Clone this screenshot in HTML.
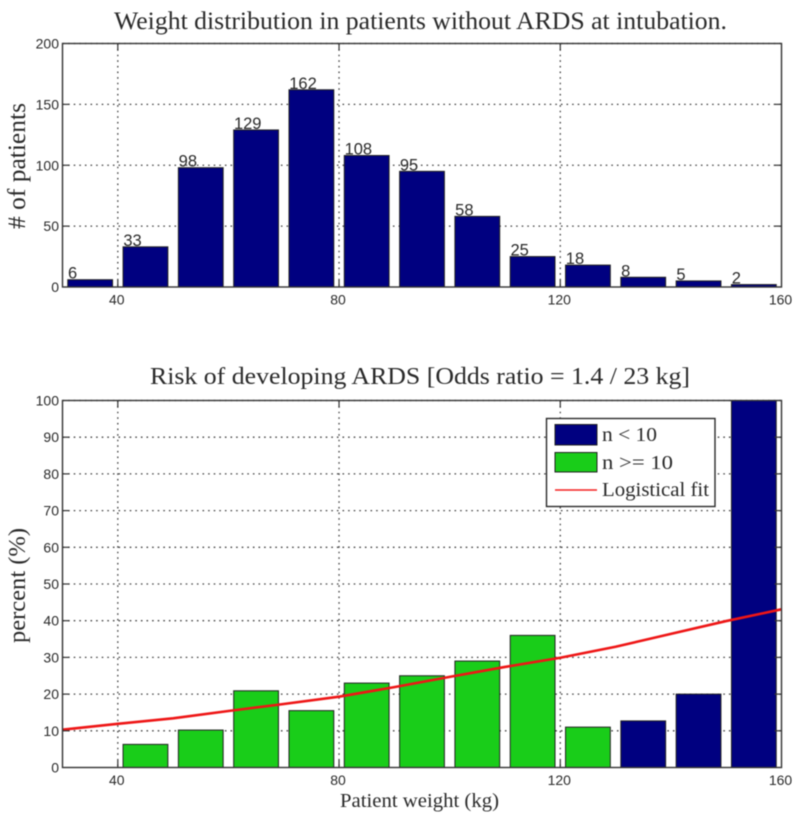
<!DOCTYPE html>
<html lang="en">
<head>
<meta charset="utf-8">
<title>Weight distribution and ARDS risk</title>
<style>
html,body{margin:0;padding:0;background:#fff;width:800px;height:820px;overflow:hidden}
svg{display:block;filter:blur(0.4px)}
.serif{font-family:"Liberation Serif","DejaVu Serif",serif;fill:#2a2a2a}
.sans{font-family:"Liberation Sans",sans-serif;fill:#2a2a2a}
</style>
</head>
<body>
<svg id="figure" xmlns="http://www.w3.org/2000/svg" width="800" height="820" viewBox="0 0 800 820">
  <g id="top-chart"></g>
  <g id="bottom-chart"></g>

  <text class="serif" x="114" y="29" font-size="25" textLength="613" lengthAdjust="spacingAndGlyphs">Weight distribution in patients without ARDS at intubation.</text>
  <text class="serif" transform="translate(25,229) rotate(-90)" font-size="25" textLength="126" lengthAdjust="spacingAndGlyphs"># of patients</text>
  <text class="serif" x="150" y="384" font-size="24" textLength="540" lengthAdjust="spacingAndGlyphs">Risk of developing ARDS [Odds ratio = 1.4 / 23 kg]</text>
  <text class="serif" transform="translate(25,643) rotate(-90)" font-size="24" textLength="115" lengthAdjust="spacingAndGlyphs">percent (%)</text>
  <text class="serif" x="340" y="807" font-size="20" textLength="159" lengthAdjust="spacingAndGlyphs">Patient weight (kg)</text>

  <g>
    <rect x="546.5" y="418.5" width="168.5" height="88" fill="#fff" stroke="#2a2a2a" stroke-width="1.4"/>
    <rect x="555" y="424.5" width="42" height="20.5" fill="#000080" stroke="#222" stroke-width="1"/>
    <text class="serif" x="602" y="441" font-size="20" textLength="55" lengthAdjust="spacingAndGlyphs">n &lt; 10</text>
    <rect x="555" y="452.5" width="42" height="19.5" fill="#19cd19" stroke="#222" stroke-width="1"/>
    <text class="serif" x="602" y="469" font-size="20" textLength="71" lengthAdjust="spacingAndGlyphs">n &gt;= 10</text>
    <line x1="555" x2="597" y1="490" y2="490" stroke="#f42020" stroke-width="1.6"/>
    <text class="serif" x="602" y="496" font-size="20" textLength="107" lengthAdjust="spacingAndGlyphs">Logistical fit</text>
  </g>
</svg>
<script>
var binCenters = [35, 45, 55, 65, 75, 85, 95, 105, 115, 125, 135, 145, 155];
var patientCounts = [6, 33, 98, 129, 162, 108, 95, 58, 25, 18, 8, 5, 2];
var riskPercent = [0, 6.3, 10.2, 20.9, 15.5, 23, 25, 29, 36, 11, 12.7, 20, 100];
var riskSmallSample = [true, false, false, false, false, false, false, false, false, false, true, true, true];
var fitWeights = [30, 40, 50, 60, 70, 80, 90, 100, 110, 120, 130, 140, 150, 160];
var fitPercent = [10.3, 11.9, 13.4, 15.4, 17.3, 19.3, 21.9, 24.7, 27.4, 29.9, 32.9, 36.4, 39.9, 43.1];
var xTickValues = [40, 80, 120, 160];
var topYTicks = [0, 50, 100, 150, 200];
var bottomYTicks = [0, 10, 20, 30, 40, 50, 60, 70, 80, 90, 100];

var NS = 'http://www.w3.org/2000/svg';
var plotLeft = 62.5, plotRight = 781.5;
var xMin = 30, xMax = 160, binWidth = 8;

function xScale(v) {
  return plotLeft + (v - xMin) / (xMax - xMin) * (plotRight - plotLeft);
}
function makeYScale(top, bottom, maxVal) {
  return function (v) { return bottom - v / maxVal * (bottom - top); };
}
function make(parent, tag, attrs, text) {
  var el = document.createElementNS(NS, tag);
  for (var k in attrs) el.setAttribute(k, attrs[k]);
  if (text !== undefined) el.textContent = text;
  parent.appendChild(el);
  return el;
}

function drawFrame(g, yScale, yTicks, top, bottom) {
  var el;
  xTickValues.forEach(function (t) {
    if (t < xMax) {
      el = make(g, 'line', { x1: xScale(t), x2: xScale(t), y1: top, y2: bottom, stroke: '#444', 'stroke-width': 1.3, 'stroke-dasharray': '1.6 4' });
      
      
    }
    el = make(g, 'text', { x: xScale(t) - 1, y: bottom + 17.5, 'text-anchor': 'middle', 'font-size': 14, 'class': 'sans' }, String(t));
    
    
  });
  yTicks.forEach(function (t) {
    if (t > 0) {
      el = make(g, 'line', { x1: plotLeft, x2: plotRight, y1: yScale(t), y2: yScale(t), stroke: '#444', 'stroke-width': 1.3, 'stroke-dasharray': '1.6 4' });
      
      
    }
    el = make(g, 'text', { x: 59, y: yScale(t) + 5, 'text-anchor': 'end', 'font-size': 14, 'class': 'sans' }, String(t));
    
    
  });
}

function drawBorder(g, yScale, yTicks, top, bottom) {
  var el;
  xTickValues.forEach(function (t) {
    if (t < xMax) {
      el = make(g, 'line', { x1: xScale(t), x2: xScale(t), y1: bottom, y2: bottom - 7, stroke: '#333', 'stroke-width': 1.2 });
      
      
      el = make(g, 'line', { x1: xScale(t), x2: xScale(t), y1: top, y2: top + 7, stroke: '#333', 'stroke-width': 1.2 });
      
      
    }
  });
  yTicks.forEach(function (t) {
    if (t > 0 && t < yTicks[yTicks.length - 1]) {
      el = make(g, 'line', { x1: plotLeft, x2: plotLeft + 7, y1: yScale(t), y2: yScale(t), stroke: '#333', 'stroke-width': 1.2 });
      
      
      el = make(g, 'line', { x1: plotRight, x2: plotRight - 7, y1: yScale(t), y2: yScale(t), stroke: '#333', 'stroke-width': 1.2 });
      
      
    }
  });
  el = make(g, 'rect', { x: plotLeft, y: top, width: plotRight - plotLeft, height: bottom - top, fill: 'none', stroke: '#333', 'stroke-width': 1.4 });
  
  
}

function drawBar(g, center, value, yScale, color, name) {
  var x0 = xScale(center - binWidth / 2 - 0.05);
  var x1 = xScale(center + binWidth / 2 + 0.05);
  var y0 = yScale(value);
  var y1 = yScale(0);
  var el = make(g, 'rect', { x: x0, y: y0, width: x1 - x0, height: Math.max(0, y1 - y0), fill: color, stroke: '#222', 'stroke-width': 1 });
  
  
}

/* top chart */
var topG = document.getElementById('top-chart');
var topY = makeYScale(43.5, 287, 200);
drawFrame(topG, topY, topYTicks, 43.5, 287);
binCenters.forEach(function (c, i) {
  drawBar(topG, c, patientCounts[i], topY, '#000080', 'count-bar');
  var label = make(topG, 'text', { x: xScale(c - binWidth / 2), y: topY(patientCounts[i]) - 1, 'font-size': 16.5, 'class': 'sans' }, String(patientCounts[i]));
  
  
});
drawBorder(topG, topY, topYTicks, 43.5, 287);

/* bottom chart */
var botG = document.getElementById('bottom-chart');
var botY = makeYScale(400.5, 767.5, 100);
drawFrame(botG, botY, bottomYTicks, 400.5, 767.5);
binCenters.forEach(function (c, i) {
  if (riskPercent[i] > 0) {
    drawBar(botG, c, riskPercent[i], botY, riskSmallSample[i] ? '#000080' : '#19cd19', riskSmallSample[i] ? 'risk-bar-low-n' : 'risk-bar-high-n');
  }
});
var fitPoints = fitWeights.map(function (w, i) {
  return xScale(w) + ',' + botY(fitPercent[i]);
}).join(' ');
var fitLine = make(botG, 'polyline', { points: fitPoints, fill: 'none', stroke: '#ee1616', 'stroke-width': 2.6 });


drawBorder(botG, botY, bottomYTicks, 400.5, 767.5);
</script>
</body>
</html>
